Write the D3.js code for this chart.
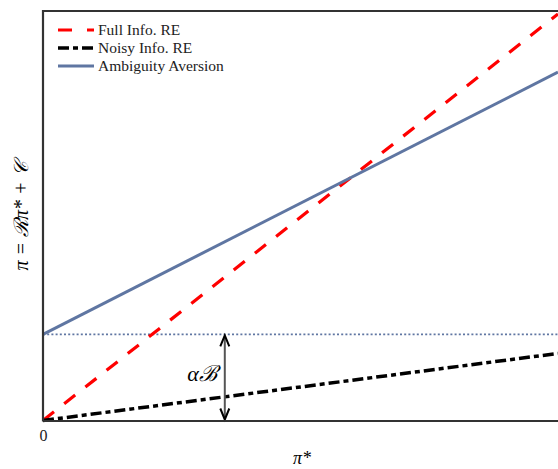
<!DOCTYPE html>
<html><head><meta charset="utf-8">
<script src="https://cdn.jsdelivr.net/npm/d3@7"></script>
<style>html,body{margin:0;padding:0;overflow:hidden;background:#fff}</style>
</head><body><svg id="c" width="558" height="469"></svg>
<script>
const piStar = [0, 1];
const fullInfo = [0, 1];
const noisyInfo = [0, 0.165];
const ambiguity = [0.212, 0.857];
const seriesNames = ["Full Info. RE", "Noisy Info. RE", "Ambiguity Aversion"];
const xTicks = [0];
const ambiguityLevel = 0.212;
const arrowX = 0.353;

const svg = d3.select("#c");
const x = d3.scaleLinear().domain([0, 1.1]).range([43, 43 + 515 * 1.1]);
const y = d3.scaleLinear().domain([0, 1.0074]).range([420.5, 11]);
const serif = "'Liberation Serif', 'DejaVu Serif', serif";

const line = d3.line().x(d => x(d[0])).y(d => y(d[1]));
const styles = [
  {vals: fullInfo, color: "#ff0000", w: 3.2, dash: "14,13"},
  {vals: noisyInfo, color: "#000000", w: 3.5, dash: "11,4,5,4"},
  {vals: ambiguity, color: "#5f76a2", w: 3, dash: null}
];

// dotted horizontal
svg.append("line")
  .attr("x1", x(0)).attr("x2", x(1.1))
  .attr("y1", y(ambiguityLevel)).attr("y2", y(ambiguityLevel))
  .attr("stroke", "#5f76a2").attr("stroke-width", 1.8).attr("stroke-dasharray", "2,2.2");

styles.forEach(s => {
  svg.append("path").datum(piStar.map((p, i) => [p, s.vals[i]]))
    .attr("d", line).attr("fill", "none").attr("stroke", s.color)
    .attr("stroke-width", s.w).attr("stroke-dasharray", s.dash);
});

// arrow
const ax = x(arrowX);
svg.append("line").attr("x1", ax).attr("x2", ax).attr("y1", y(ambiguityLevel) + 2).attr("y2", y(0) - 2)
  .attr("stroke", "#555").attr("stroke-width", 2);
const head = (yy, dir) => svg.append("path")
  .attr("d", `M${ax - 4.5},${yy + dir * 11} L${ax},${yy} L${ax + 4.5},${yy + dir * 11}`)
  .attr("fill", "none").attr("stroke", "#000").attr("stroke-width", 2);
head(y(ambiguityLevel) + 1, 1);
head(y(0) - 1, -1);
svg.append("text").attr("x", ax - 8).attr("y", 381).attr("text-anchor", "end")
  .attr("font-family", serif).attr("font-size", 22).attr("font-style", "italic").text("αℬ");

// axes spines
const axisG = svg.append("g");
const xAxis = d3.axisBottom(x).tickValues(xTicks).tickSize(0).tickPadding(9).tickFormat(d3.format("d"));
const gx = axisG.append("g").attr("transform", `translate(0,${y(0)})`).call(xAxis);
gx.select(".domain").attr("stroke", "#333").attr("stroke-width", 2.2);
gx.selectAll("text").attr("font-family", serif).attr("font-size", 16).attr("fill", "#222");
axisG.append("line").attr("x1", 43).attr("x2", 43).attr("y1", 10).attr("y2", 421.6)
  .attr("stroke", "#333").attr("stroke-width", 2.2);
axisG.append("line").attr("x1", 42).attr("x2", 700).attr("y1", 11).attr("y2", 11)
  .attr("stroke", "#333").attr("stroke-width", 2.2);

// labels
svg.append("text").attr("x", 302).attr("y", 464).attr("text-anchor", "middle")
  .attr("font-family", serif).attr("font-size", 18).attr("font-style", "italic").text("π*");
svg.append("text").attr("transform", "translate(28,216) rotate(-90)").attr("text-anchor", "middle")
  .attr("font-family", serif).attr("font-size", 20).attr("font-style", "italic").text("π = ℛπ* + 𝒞");

// legend
const lg = svg.append("g");
seriesNames.forEach((n, i) => {
  const yy = 30 + i * 18;
  lg.append("line").attr("x1", 58).attr("x2", 94).attr("y1", yy).attr("y2", yy)
    .attr("stroke", styles[i].color).attr("stroke-width", styles[i].w)
    .attr("stroke-dasharray", i === 0 ? "14,15" : styles[i].dash);
  lg.append("text").attr("x", 98).attr("y", yy + 5).attr("font-family", serif)
    .attr("font-size", 15.5).attr("fill", "#222").text(n);
});
</script></body></html>
